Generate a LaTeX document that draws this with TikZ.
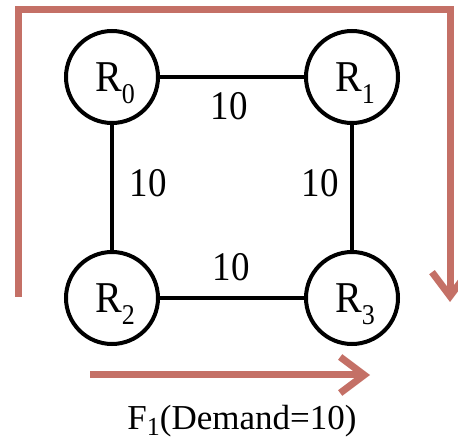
\documentclass[tikz,border=0pt]{standalone}
\usepackage{fontspec}
\setmainfont{Liberation Serif}
\usetikzlibrary{arrows.meta,positioning}
\definecolor{flowred}{RGB}{196,112,102}
\newcommand{\lowidx}[2]{\raisebox{-#1}[0pt][0pt]{\fontsize{26}{28}\selectfont #2}}
\newcommand{\tall}[1]{\scalebox{1}[1.1]{#1}}

\begin{document}
\begin{tikzpicture}[
    x=1pt, y=-1pt,
    router/.style={circle, draw, line width=4pt, minimum size=92pt, inner sep=0pt, font=\rmfamily\fontsize{40}{42}\selectfont},
    link/.style={line width=4pt},
    weight/.style={font=\rmfamily\fontsize{37}{39}\selectfont, inner sep=0pt},
    flow/.style={line width=7pt, flowred, -{Straight Barb[length=24pt, width=36pt, line width=7pt]}}
]
    \useasboundingbox (0,0) rectangle (458,443);

    % Routeurs
    \node[router] (r0) at (112,77) {\tall{\hspace{6pt}R\lowidx{11pt}{0}}};
    \node[router] (r1) at (352,77) {\tall{\hspace{6pt}R\lowidx{11pt}{1}}};
    \node[router] (r2) at (112,298) {\tall{\hspace{6pt}R\lowidx{11pt}{2}}};
    \node[router] (r3) at (352,298) {\tall{\hspace{6pt}R\lowidx{11pt}{3}}};

    % Liens
    \draw[link] (r0) -- (r1);
    \draw[link] (r0) -- (r2);
    \draw[link] (r1) -- (r3);
    \draw[link] (r2) -- (r3);

    % Poids
    \node[weight] (w01) at (229,106) {\tall{10}};
    \node[weight] (w02) at (148,183) {\tall{10}};
    \node[weight] (w13) at (320,183) {\tall{10}};
    \node[weight] (w23) at (231,267) {\tall{10}};

    % Flux F1
    \coordinate (fa) at (18,297);
    \coordinate (fb) at (450,10);
    \coordinate (fc) at (450,302);
    \draw[flow] (fa) |- (fb) -- (fc);
    \coordinate (fd) at (90,375);
    \coordinate (fe) at (370,375);
    \draw[flow] (fd) -- (fe);

    \node[weight, anchor=base, font=\rmfamily\fontsize{35}{37}\selectfont] (dem) at (242,430) {F\lowidx{6pt}{1}(Demand=10)};
\end{tikzpicture}
\end{document}
